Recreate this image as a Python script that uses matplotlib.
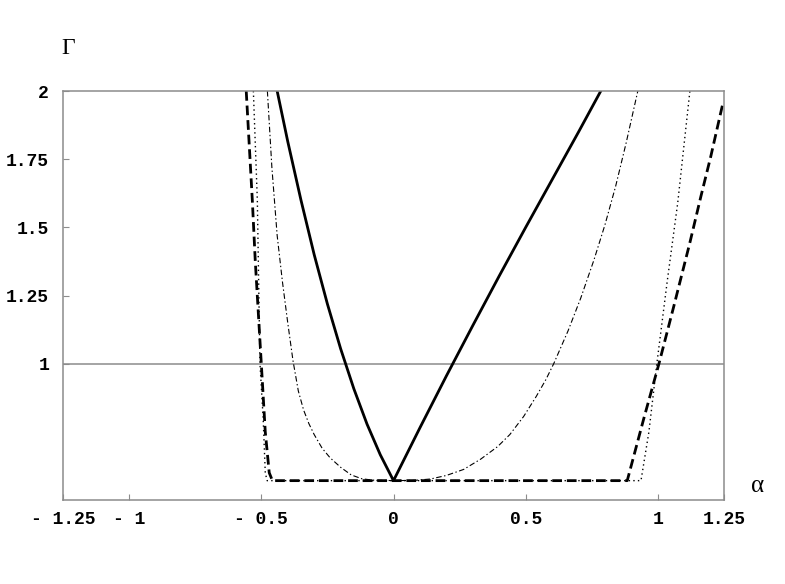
import matplotlib
matplotlib.use("Agg")
import matplotlib.pyplot as plt

plt.rcParams['lines.scale_dashes'] = False

# solid curve
solid_x = [-0.44, -0.40, -0.35, -0.30, -0.25, -0.20, -0.15, -0.10, -0.05, 0.0,
           0.10, 0.20, 0.30, 0.40, 0.50, 0.60, 0.70, 0.784]
solid_y = [2.0, 1.815, 1.60, 1.40, 1.219, 1.055, 0.908, 0.778, 0.666, 0.571,
           0.765, 0.955, 1.14, 1.322, 1.50, 1.675, 1.85, 2.0]

# dash-dot curve
dashdot_x = [-0.477, -0.46, -0.44, -0.42, -0.40, -0.38, -0.36, -0.34, -0.32, -0.30,
             -0.27, -0.24, -0.20, -0.16, -0.12, -0.08, 0.0, 0.08, 0.14, 0.2, 0.265,
             0.33, 0.394, 0.44, 0.492, 0.54, 0.576, 0.606, 0.66, 0.708, 0.758, 0.80,
             0.84, 0.88, 0.924]
dashdot_y = [2.0, 1.72, 1.47, 1.30, 1.15, 1.01, 0.90, 0.83, 0.78, 0.74,
             0.69, 0.655, 0.62, 0.592, 0.578, 0.573, 0.571, 0.572, 0.577, 0.59, 0.612,
             0.65, 0.696, 0.74, 0.806, 0.88, 0.941, 1.0, 1.12, 1.24, 1.38, 1.51,
             1.65, 1.81, 2.0]

# dotted curve
dotted_x = [-0.530, -0.515, -0.505, -0.493, -0.485, -0.478, 0.936,
            0.966, 0.996, 1.035, 1.075, 1.121]
dotted_y = [2.0, 1.6, 1.0, 0.8, 0.6, 0.571, 0.571,
            0.75, 1.0, 1.3, 1.59, 2.0]

# dashed curve
dashed_x = [-0.557, -0.534, -0.523, -0.50, -0.485, -0.47, -0.458, 0.884,
            0.947, 1.004, 1.06, 1.12, 1.163, 1.20, 1.246]
dashed_y = [2.0, 1.6, 1.38, 1.0, 0.75, 0.6, 0.571, 0.571,
            0.80, 1.0, 1.21, 1.44, 1.615, 1.76, 1.956]

xticks = [-1.25, -1, -0.5, 0, 0.5, 1, 1.25]
xlabels = ['- 1.25', '- 1', '- 0.5', '0', '0.5', '1', '1.25']
yticks = [1, 1.25, 1.5, 1.75, 2]
ylabels = ['1', '1.25', '1.5', '1.75', '2']

fig = plt.figure(figsize=(7.85, 5.84), dpi=100)
ax = fig.add_axes([63/785, 84/584, 661/785, 409/584])

grey = '#8c8c8c'
ax.axhline(1, color=grey, lw=1.1, zorder=1)

ax.plot(solid_x, solid_y, color='black', lw=2.0)
ax.plot(dashdot_x, dashdot_y, color='black', lw=0.8, dashes=(4, 1.8, 1, 1.8))
ax.plot(dotted_x, dotted_y, color='black', lw=1.0, dashes=(1, 2.3))
ax.plot(dashed_x, dashed_y, color='black', lw=2.0, dashes=(7, 3.5))

ax.set_xlim(-1.25, 1.25)
ax.set_ylim(0.5, 2.0)

for s in ax.spines.values():
    s.set_color(grey)
    s.set_linewidth(1.1)

ax.set_xticks(xticks)
ax.set_xticklabels(xlabels)
ax.set_yticks(yticks)
ax.set_yticklabels(ylabels)
ax.tick_params(direction='in', length=4, color=grey, width=0.8)
ax.tick_params(axis='x', pad=8)
ax.tick_params(axis='y', pad=10)
for lab in ax.get_xticklabels() + ax.get_yticklabels():
    lab.set_fontfamily('Liberation Mono')
    lab.set_fontweight('bold')
    lab.set_fontsize(13)

fig.text(68/785, 1 - 48/584, 'Γ', family='Liberation Serif', fontsize=17,
         ha='center', va='center')
fig.text(758/785, 1 - 486/584, 'α', family='Liberation Serif', fontsize=18,
         ha='center', va='center')

fig.savefig('out.png', dpi=100)
